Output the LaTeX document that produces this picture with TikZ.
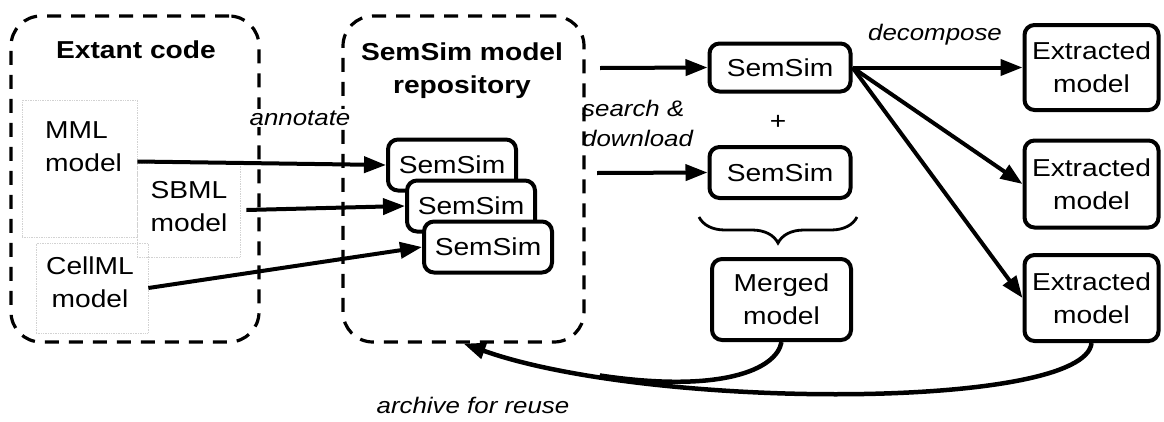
\documentclass[tikz,border=0pt]{standalone}
\usepackage{fontspec}
\setmainfont{Liberation Sans}[FakeStretch=1.15]
\usetikzlibrary{arrows.meta,decorations.pathreplacing}
\begin{document}
\begin{tikzpicture}[x=1pt,y=-1pt,
  every node/.style={inner sep=0pt, align=center, font=\fontsize{24.5}{33}\selectfont},
  grp/.style={draw, line width=3.2pt, dash pattern=on 14pt off 10pt, rounded corners=30pt},
  mbox/.style={draw, line width=4pt, rounded corners=10pt, fill=white},
  title/.style={font=\fontsize{24.5}{33}\selectfont\bfseries},
  lbl/.style={font=\fontsize{22.5}{30}\selectfont\itshape},
  src/.style={draw=gray!35, densely dotted, line width=0.7pt},
  arr/.style={line width=4pt, -{Triangle[length=22pt,width=16pt]}},
  link/.style={line width=4.5pt}]
\useasboundingbox (0,0) rectangle (1164,421);

% dashed groups
\node[grp, minimum width=248pt, minimum height=326pt] (ext) at (135,179) {};
\node[grp, minimum width=241pt, minimum height=326pt] (repo) at (463.5,179) {};
\node[title] (extT) at (136,50) {Extant code};
\node[title] (repoT) at (462,71) {SemSim model\\repository};

% source files
\node[src, minimum width=115pt, minimum height=137pt] (mmlbox) at (79.5,168.5) {};
\node[src, minimum width=103pt, minimum height=94pt] (sbmlbox) at (188.5,210) {};
\node[src, minimum width=112pt, minimum height=90pt] (cellbox) at (92,288) {};
\node[anchor=west, align=left] (mml) at (45,147) {MML\\model};
\node (sbml) at (189,207) {SBML\\model};
\node (cell) at (90,282) {CellML\\model};

% annotated models
\node[mbox, minimum width=128pt, minimum height=51pt] (ss1) at (452,165) {SemSim};
\node[mbox, minimum width=128pt, minimum height=51pt] (ss2) at (471,206) {SemSim};
\node[mbox, minimum width=128pt, minimum height=51pt] (ss3) at (488,247) {SemSim};

% downloaded models
\node[mbox, minimum width=141pt, minimum height=48pt] (ssa) at (780,67.5) {SemSim};
\node (plus) at (778,122) {+};
\node[mbox, minimum width=141pt, minimum height=51pt] (ssb) at (780,172.5) {SemSim};
\node[mbox, minimum width=139pt, minimum height=81pt] (mrg) at (781.5,299.5) {Merged\\model};

% extracted models
\node[mbox, minimum width=134pt, minimum height=85pt] (ex1) at (1091.5,67.5) {Extracted\\model};
\node[mbox, minimum width=134pt, minimum height=87pt] (ex2) at (1091.5,184) {Extracted\\model};
\node[mbox, minimum width=134pt, minimum height=86pt] (ex3) at (1091.5,298) {Extracted\\model};

% labels
\node[lbl, fill=white, inner sep=2pt] (annot) at (300,118) {annotate};
\node[lbl, anchor=west, align=left] (sd) at (582,123) {search \&\\download};
\node[lbl] (dec) at (935,35) {decompose};
\node[lbl] (arch) at (473,405) {archive for reuse};

% annotation arrows
\draw[arr] ([yshift=7pt]mmlbox.east) -- (ss1.west);
\draw[arr] ([xshift=6pt]sbmlbox.east) -- (ss2.west);
\draw[arr] (cellbox.east) -- (ss3.west);

% search and download
\coordinate (dl1) at (600,68);
\coordinate (dl2) at (597,173);
\draw[arr] (dl1) -- (ssa.west);
\draw[arr] (dl2) -- (ssb.west);

% merge brace
\draw[line width=2.8pt, decorate, decoration={brace, amplitude=26pt, aspect=0.5, mirror}]
  (699,217) -- (857,217);

% decomposition
\draw[arr] (ssa.east) -- (ex1.west);
\draw[arr] (ssa.east) -- (ex2.west);
\draw[arr] (ssa.east) -- (ex3.west);

% archive loop
\draw[arr, line width=4.5pt] (ex3.south) .. controls (1085,410) and (650,410) .. (repo.south)
  coordinate[pos=0.8] (join);
\draw[link] (mrg.south) .. controls +(-5,28) and +(120,18) .. (join);
\end{tikzpicture}
\end{document}
